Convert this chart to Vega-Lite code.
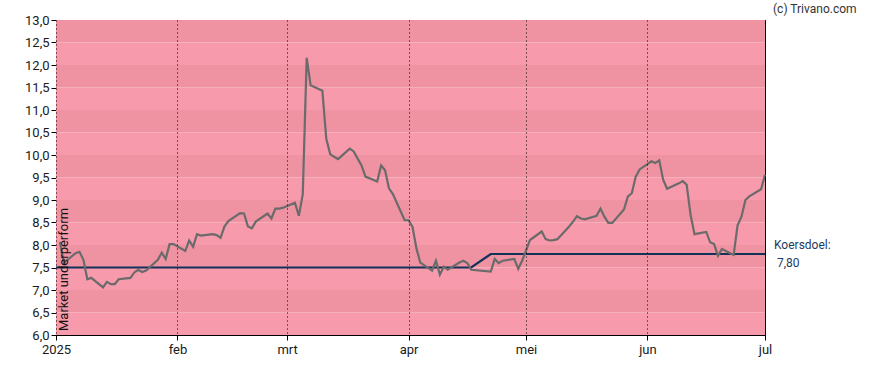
{
  "$schema": "https://vega.github.io/schema/vega-lite/v6.json",
  "autosize": "none",
  "padding": {"left": 56, "top": 20, "right": 123, "bottom": 35},
  "width": 709,
  "height": 315,
  "background": "white",
  "config": {
    "font": "Roboto",
    "view": {"stroke": "#000", "strokeWidth": 1},
    "axis": {"labelFont": "Roboto", "labelFontSize": 13, "labelColor": "#1a1a1a", "domainColor": "#000", "tickColor": "#000", "tickSize": 5, "labelPadding": 2, "title": null, "labelOverlap": false, "labelFlush": false, "labelBound": false}
  },
  "datasets": {
    "bands": [
      {"lo": 6.0, "hi": 6.5, "shade": "light"},
      {"lo": 6.5, "hi": 7.0, "shade": "dark"},
      {"lo": 7.0, "hi": 7.5, "shade": "light"},
      {"lo": 7.5, "hi": 8.0, "shade": "dark"},
      {"lo": 8.0, "hi": 8.5, "shade": "light"},
      {"lo": 8.5, "hi": 9.0, "shade": "dark"},
      {"lo": 9.0, "hi": 9.5, "shade": "light"},
      {"lo": 9.5, "hi": 10.0, "shade": "dark"},
      {"lo": 10.0, "hi": 10.5, "shade": "light"},
      {"lo": 10.5, "hi": 11.0, "shade": "dark"},
      {"lo": 11.0, "hi": 11.5, "shade": "light"},
      {"lo": 11.5, "hi": 12.0, "shade": "dark"},
      {"lo": 12.0, "hi": 12.5, "shade": "light"},
      {"lo": 12.5, "hi": 13.0, "shade": "dark"}
    ],
    "price": [
      {"date": "2025-01-02", "koers": 8.07},
      {"date": "2025-01-03", "koers": 7.60},
      {"date": "2025-01-06", "koers": 7.82},
      {"date": "2025-01-07", "koers": 7.85},
      {"date": "2025-01-08", "koers": 7.67},
      {"date": "2025-01-09", "koers": 7.24},
      {"date": "2025-01-10", "koers": 7.27},
      {"date": "2025-01-13", "koers": 7.06},
      {"date": "2025-01-14", "koers": 7.18},
      {"date": "2025-01-15", "koers": 7.13},
      {"date": "2025-01-16", "koers": 7.13},
      {"date": "2025-01-17", "koers": 7.24},
      {"date": "2025-01-20", "koers": 7.27},
      {"date": "2025-01-21", "koers": 7.39},
      {"date": "2025-01-22", "koers": 7.45},
      {"date": "2025-01-23", "koers": 7.40},
      {"date": "2025-01-24", "koers": 7.43},
      {"date": "2025-01-27", "koers": 7.67},
      {"date": "2025-01-28", "koers": 7.83},
      {"date": "2025-01-29", "koers": 7.69},
      {"date": "2025-01-30", "koers": 8.02},
      {"date": "2025-01-31", "koers": 8.02},
      {"date": "2025-02-03", "koers": 7.87},
      {"date": "2025-02-04", "koers": 8.10},
      {"date": "2025-02-05", "koers": 7.96},
      {"date": "2025-02-06", "koers": 8.24},
      {"date": "2025-02-07", "koers": 8.21},
      {"date": "2025-02-10", "koers": 8.24},
      {"date": "2025-02-11", "koers": 8.22},
      {"date": "2025-02-12", "koers": 8.16},
      {"date": "2025-02-13", "koers": 8.41},
      {"date": "2025-02-14", "koers": 8.53},
      {"date": "2025-02-17", "koers": 8.71},
      {"date": "2025-02-18", "koers": 8.70},
      {"date": "2025-02-19", "koers": 8.41},
      {"date": "2025-02-20", "koers": 8.37},
      {"date": "2025-02-21", "koers": 8.52},
      {"date": "2025-02-24", "koers": 8.70},
      {"date": "2025-02-25", "koers": 8.59},
      {"date": "2025-02-26", "koers": 8.81},
      {"date": "2025-02-27", "koers": 8.81},
      {"date": "2025-02-28", "koers": 8.83},
      {"date": "2025-03-03", "koers": 8.94},
      {"date": "2025-03-04", "koers": 8.65},
      {"date": "2025-03-05", "koers": 9.13},
      {"date": "2025-03-06", "koers": 12.16},
      {"date": "2025-03-07", "koers": 11.55},
      {"date": "2025-03-10", "koers": 11.43},
      {"date": "2025-03-11", "koers": 10.36},
      {"date": "2025-03-12", "koers": 10.02},
      {"date": "2025-03-13", "koers": 9.96},
      {"date": "2025-03-14", "koers": 9.91},
      {"date": "2025-03-17", "koers": 10.14},
      {"date": "2025-03-18", "koers": 10.08},
      {"date": "2025-03-19", "koers": 9.92},
      {"date": "2025-03-20", "koers": 9.77},
      {"date": "2025-03-21", "koers": 9.52},
      {"date": "2025-03-24", "koers": 9.41},
      {"date": "2025-03-25", "koers": 9.77},
      {"date": "2025-03-26", "koers": 9.66},
      {"date": "2025-03-27", "koers": 9.26},
      {"date": "2025-03-28", "koers": 9.13},
      {"date": "2025-03-31", "koers": 8.55},
      {"date": "2025-04-01", "koers": 8.55},
      {"date": "2025-04-02", "koers": 8.41},
      {"date": "2025-04-03", "koers": 7.93},
      {"date": "2025-04-04", "koers": 7.61},
      {"date": "2025-04-07", "koers": 7.43},
      {"date": "2025-04-08", "koers": 7.65},
      {"date": "2025-04-09", "koers": 7.34},
      {"date": "2025-04-10", "koers": 7.52},
      {"date": "2025-04-11", "koers": 7.45},
      {"date": "2025-04-14", "koers": 7.61},
      {"date": "2025-04-15", "koers": 7.65},
      {"date": "2025-04-16", "koers": 7.60},
      {"date": "2025-04-17", "koers": 7.45},
      {"date": "2025-04-22", "koers": 7.41},
      {"date": "2025-04-23", "koers": 7.69},
      {"date": "2025-04-24", "koers": 7.60},
      {"date": "2025-04-25", "koers": 7.65},
      {"date": "2025-04-28", "koers": 7.69},
      {"date": "2025-04-29", "koers": 7.47},
      {"date": "2025-04-30", "koers": 7.65},
      {"date": "2025-05-02", "koers": 8.11},
      {"date": "2025-05-05", "koers": 8.30},
      {"date": "2025-05-06", "koers": 8.13},
      {"date": "2025-05-07", "koers": 8.10},
      {"date": "2025-05-08", "koers": 8.11},
      {"date": "2025-05-09", "koers": 8.13},
      {"date": "2025-05-12", "koers": 8.41},
      {"date": "2025-05-13", "koers": 8.52},
      {"date": "2025-05-14", "koers": 8.64},
      {"date": "2025-05-15", "koers": 8.59},
      {"date": "2025-05-16", "koers": 8.57},
      {"date": "2025-05-19", "koers": 8.65},
      {"date": "2025-05-20", "koers": 8.81},
      {"date": "2025-05-21", "koers": 8.63},
      {"date": "2025-05-22", "koers": 8.49},
      {"date": "2025-05-23", "koers": 8.49},
      {"date": "2025-05-26", "koers": 8.79},
      {"date": "2025-05-27", "koers": 9.08},
      {"date": "2025-05-28", "koers": 9.15},
      {"date": "2025-05-29", "koers": 9.52},
      {"date": "2025-05-30", "koers": 9.68},
      {"date": "2025-06-02", "koers": 9.86},
      {"date": "2025-06-03", "koers": 9.82},
      {"date": "2025-06-04", "koers": 9.88},
      {"date": "2025-06-05", "koers": 9.45},
      {"date": "2025-06-06", "koers": 9.25},
      {"date": "2025-06-09", "koers": 9.37},
      {"date": "2025-06-10", "koers": 9.42},
      {"date": "2025-06-11", "koers": 9.34},
      {"date": "2025-06-12", "koers": 8.67},
      {"date": "2025-06-13", "koers": 8.24},
      {"date": "2025-06-16", "koers": 8.29},
      {"date": "2025-06-17", "koers": 8.06},
      {"date": "2025-06-18", "koers": 8.02},
      {"date": "2025-06-19", "koers": 7.76},
      {"date": "2025-06-20", "koers": 7.91},
      {"date": "2025-06-23", "koers": 7.78},
      {"date": "2025-06-24", "koers": 8.44},
      {"date": "2025-06-25", "koers": 8.63},
      {"date": "2025-06-26", "koers": 9.00},
      {"date": "2025-06-27", "koers": 9.08},
      {"date": "2025-06-30", "koers": 9.24},
      {"date": "2025-07-01", "koers": 9.56}
    ],
    "target": [
      {"date": "2025-01-01", "doel": 7.5},
      {"date": "2025-04-17", "doel": 7.5},
      {"date": "2025-04-22", "doel": 7.8},
      {"date": "2025-07-01", "doel": 7.8}
    ],
    "notes": [
      {"date": "2025-01-01", "v": 6.0, "label": "Market underperform", "kind": "zone"},
      {"date": "2025-07-01", "v": 7.8, "label": "Koersdoel:", "kind": "kd1"},
      {"date": "2025-07-01", "v": 7.8, "label": "7,80", "kind": "kd2"},
      {"date": "2025-07-01", "v": 13.0, "label": "(c) Trivano.com", "kind": "copy"}
    ]
  },
  "encoding": {
    "x": {"field": "date", "type": "temporal",
      "scale": {"type": "utc", "domain": [{"year": 2025, "month": 1, "date": 1, "utc": true}, {"year": 2025, "month": 7, "date": 1, "utc": true}]},
      "axis": {
        "values": [
          {"year": 2025, "month": 1, "date": 1, "utc": true},
          {"year": 2025, "month": 2, "date": 1, "utc": true},
          {"year": 2025, "month": 3, "date": 1, "utc": true},
          {"year": 2025, "month": 4, "date": 1, "utc": true},
          {"year": 2025, "month": 5, "date": 1, "utc": true},
          {"year": 2025, "month": 6, "date": 1, "utc": true},
          {"year": 2025, "month": 7, "date": 1, "utc": true}
        ],
        "labelExpr": "utcmonth(datum.value) == 0 ? utcFormat(datum.value, '%Y') : ['jan','feb','mrt','apr','mei','jun','jul'][utcmonth(datum.value)]",
        "labelPadding": 3,
        "grid": true, "gridColor": "#000", "gridDash": [1, 3], "gridWidth": 1, "gridOpacity": 1,
        "zindex": 1
      }
    }
  },
  "layer": [
    {
      "data": {"name": "bands"},
      "mark": {"type": "rect"},
      "encoding": {
        "x": null,
        "y": {"field": "lo", "type": "quantitative", "scale": {"domain": [6, 13], "nice": false, "zero": false},
          "axis": {
            "values": [6, 6.5, 7, 7.5, 8, 8.5, 9, 9.5, 10, 10.5, 11, 11.5, 12, 12.5, 13],
            "labelExpr": "replace(format(datum.value, '.1f'), '.', ',')",
            "labelOverlap": false,
            "grid": false
          }
        },
        "y2": {"field": "hi"},
        "color": {"field": "shade", "type": "nominal", "scale": {"domain": ["light", "dark"], "range": ["#F79AAB", "#EF93A3"]}, "legend": null}
      }
    },
    {
      "data": {"name": "target"},
      "mark": {"type": "line", "color": "#13325A", "strokeWidth": 2.2},
      "encoding": {
        "y": {"field": "doel", "type": "quantitative",
          "axis": {
            "values": [6, 6.5, 7, 7.5, 8, 8.5, 9, 9.5, 10, 10.5, 11, 11.5, 12, 12.5, 13],
            "labelExpr": "replace(format(datum.value, '.1f'), '.', ',')",
            "labelOverlap": false,
            "grid": false
          }
        }
      }
    },
    {
      "data": {"name": "price"},
      "mark": {"type": "line", "color": "#6B6B6B", "strokeWidth": 2.2},
      "encoding": {
        "y": {"field": "koers", "type": "quantitative",
          "axis": {
            "values": [6, 6.5, 7, 7.5, 8, 8.5, 9, 9.5, 10, 10.5, 11, 11.5, 12, 12.5, 13],
            "labelExpr": "replace(format(datum.value, '.1f'), '.', ',')",
            "labelOverlap": false,
            "grid": false
          }
        }
      }
    },
    {
      "data": {"name": "notes"},
      "transform": [{"filter": "datum.kind == 'zone'"}],
      "mark": {"type": "text", "angle": 270, "align": "left", "baseline": "middle", "fontSize": 13, "color": "#111", "xOffset": 8, "yOffset": -4},
      "encoding": {
        "text": {"field": "label"},
        "y": {"field": "v", "type": "quantitative",
          "axis": {
            "values": [6, 6.5, 7, 7.5, 8, 8.5, 9, 9.5, 10, 10.5, 11, 11.5, 12, 12.5, 13],
            "labelExpr": "replace(format(datum.value, '.1f'), '.', ',')",
            "labelOverlap": false,
            "grid": false
          }
        }
      }
    },
    {
      "data": {"name": "notes"},
      "transform": [{"filter": "datum.kind == 'kd1'"}],
      "mark": {"type": "text", "align": "left", "baseline": "middle", "fontSize": 12, "color": "#1F3A5F", "xOffset": 9, "yOffset": -9},
      "encoding": {
        "text": {"field": "label"},
        "y": {"field": "v", "type": "quantitative",
          "axis": {
            "values": [6, 6.5, 7, 7.5, 8, 8.5, 9, 9.5, 10, 10.5, 11, 11.5, 12, 12.5, 13],
            "labelExpr": "replace(format(datum.value, '.1f'), '.', ',')",
            "labelOverlap": false,
            "grid": false
          }
        }
      }
    },
    {
      "data": {"name": "notes"},
      "transform": [{"filter": "datum.kind == 'kd2'"}],
      "mark": {"type": "text", "align": "left", "baseline": "middle", "fontSize": 12, "color": "#1F3A5F", "xOffset": 12, "yOffset": 9},
      "encoding": {
        "text": {"field": "label"},
        "y": {"field": "v", "type": "quantitative",
          "axis": {
            "values": [6, 6.5, 7, 7.5, 8, 8.5, 9, 9.5, 10, 10.5, 11, 11.5, 12, 12.5, 13],
            "labelExpr": "replace(format(datum.value, '.1f'), '.', ',')",
            "labelOverlap": false,
            "grid": false
          }
        }
      }
    },
    {
      "data": {"name": "notes"},
      "transform": [{"filter": "datum.kind == 'copy'"}],
      "mark": {"type": "text", "align": "left", "baseline": "middle", "fontSize": 12, "color": "#333", "xOffset": 8, "yOffset": -11.5},
      "encoding": {
        "text": {"field": "label"},
        "y": {"field": "v", "type": "quantitative",
          "axis": {
            "values": [6, 6.5, 7, 7.5, 8, 8.5, 9, 9.5, 10, 10.5, 11, 11.5, 12, 12.5, 13],
            "labelExpr": "replace(format(datum.value, '.1f'), '.', ',')",
            "labelOverlap": false,
            "grid": false
          }
        }
      }
    }
  ]
}
